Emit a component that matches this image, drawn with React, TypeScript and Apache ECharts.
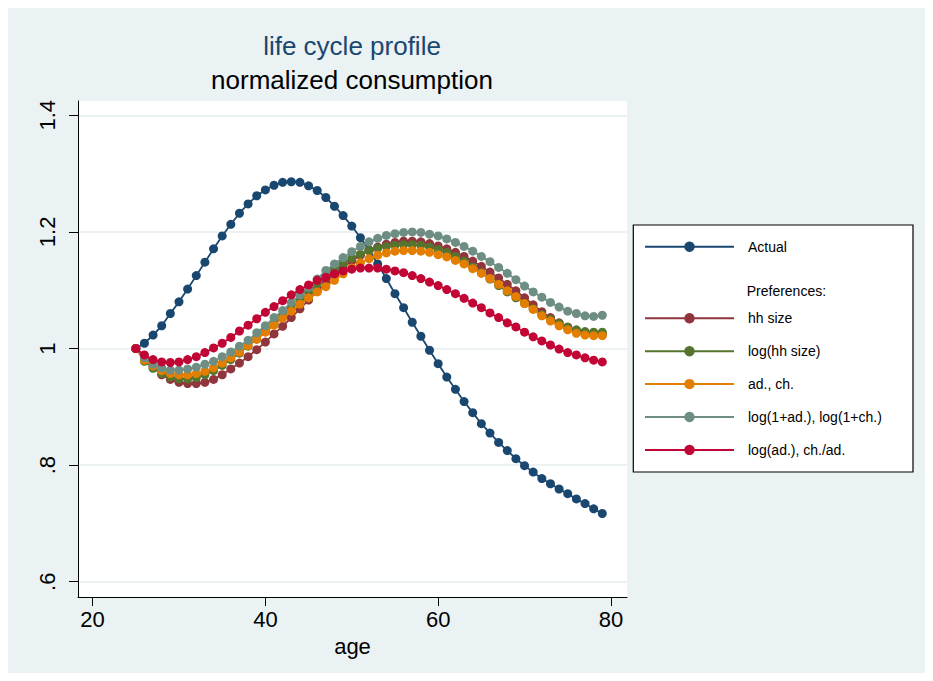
import { useEffect, useRef } from 'react';
import * as echarts from 'echarts';

const ages = [25, 26, 27, 28, 29, 30, 31, 32, 33, 34, 35, 36, 37, 38, 39, 40, 41, 42, 43, 44, 45, 46, 47, 48, 49, 50, 51, 52, 53, 54, 55, 56, 57, 58, 59, 60, 61, 62, 63, 64, 65, 66, 67, 68, 69, 70, 71, 72, 73, 74, 75, 76, 77, 78, 79];

const actual = [1.000, 1.009, 1.023, 1.039, 1.060, 1.080, 1.102, 1.125, 1.148, 1.171, 1.193, 1.213, 1.232, 1.248, 1.262, 1.272, 1.280, 1.285, 1.286, 1.285, 1.279, 1.271, 1.259, 1.244, 1.228, 1.210, 1.190, 1.169, 1.145, 1.120, 1.094, 1.070, 1.045, 1.021, 0.997, 0.974, 0.951, 0.930, 0.909, 0.890, 0.871, 0.855, 0.839, 0.825, 0.811, 0.799, 0.788, 0.777, 0.768, 0.759, 0.751, 0.742, 0.734, 0.725, 0.717];

const hhSize = [1.000, 0.982, 0.968, 0.955, 0.947, 0.942, 0.940, 0.940, 0.942, 0.947, 0.955, 0.965, 0.975, 0.986, 0.998, 1.011, 1.025, 1.038, 1.053, 1.068, 1.083, 1.098, 1.113, 1.127, 1.139, 1.150, 1.160, 1.168, 1.174, 1.179, 1.182, 1.184, 1.184, 1.183, 1.180, 1.176, 1.171, 1.165, 1.158, 1.150, 1.141, 1.131, 1.121, 1.110, 1.099, 1.087, 1.075, 1.063, 1.053, 1.044, 1.036, 1.030, 1.026, 1.024, 1.024];

const logHhSize = [1.000, 0.978, 0.966, 0.957, 0.951, 0.948, 0.948, 0.950, 0.955, 0.962, 0.971, 0.981, 0.992, 1.004, 1.016, 1.029, 1.042, 1.056, 1.069, 1.082, 1.096, 1.111, 1.125, 1.136, 1.146, 1.155, 1.162, 1.168, 1.172, 1.175, 1.177, 1.178, 1.178, 1.177, 1.174, 1.170, 1.165, 1.158, 1.150, 1.140, 1.130, 1.119, 1.108, 1.097, 1.087, 1.077, 1.068, 1.058, 1.050, 1.043, 1.037, 1.032, 1.029, 1.028, 1.028];

const adCh = [1.000, 0.980, 0.970, 0.962, 0.957, 0.955, 0.955, 0.957, 0.961, 0.967, 0.975, 0.984, 0.994, 1.005, 1.016, 1.028, 1.040, 1.052, 1.064, 1.076, 1.087, 1.097, 1.106, 1.117, 1.128, 1.138, 1.147, 1.154, 1.160, 1.164, 1.167, 1.168, 1.168, 1.167, 1.165, 1.161, 1.157, 1.151, 1.145, 1.137, 1.129, 1.120, 1.110, 1.099, 1.089, 1.077, 1.067, 1.056, 1.047, 1.039, 1.032, 1.026, 1.023, 1.022, 1.022];

const log1AdCh = [1.000, 0.984, 0.973, 0.967, 0.963, 0.963, 0.965, 0.968, 0.973, 0.978, 0.986, 0.994, 1.004, 1.014, 1.027, 1.039, 1.053, 1.065, 1.079, 1.092, 1.105, 1.119, 1.134, 1.145, 1.156, 1.166, 1.175, 1.183, 1.189, 1.194, 1.197, 1.199, 1.200, 1.199, 1.196, 1.193, 1.188, 1.182, 1.175, 1.167, 1.158, 1.149, 1.139, 1.129, 1.118, 1.107, 1.097, 1.088, 1.079, 1.071, 1.064, 1.060, 1.056, 1.055, 1.057];

const logAdChAd = [1.000, 0.989, 0.981, 0.977, 0.976, 0.977, 0.981, 0.986, 0.993, 1.001, 1.009, 1.019, 1.030, 1.040, 1.051, 1.062, 1.072, 1.082, 1.092, 1.101, 1.109, 1.117, 1.122, 1.128, 1.133, 1.136, 1.138, 1.138, 1.138, 1.136, 1.133, 1.130, 1.125, 1.120, 1.114, 1.108, 1.101, 1.094, 1.086, 1.078, 1.070, 1.061, 1.053, 1.044, 1.037, 1.028, 1.020, 1.013, 1.006, 0.999, 0.993, 0.989, 0.984, 0.980, 0.977];

const seriesNames = ['Actual', 'hh size', 'log(hh size)', 'ad., ch.', 'log(1+ad.), log(1+ch.)', 'log(ad.), ch./ad.'];
const seriesValues = [actual, hhSize, logHhSize, adCh, log1AdCh, logAdChAd];
const seriesColors = ['#1a476f', '#90353b', '#55752f', '#e37e00', '#6e8e84', '#c10534'];

const xTicks = [20, 40, 60, 80];
const yTicks = [0.6, 0.8, 1, 1.2, 1.4];
const yTickLabels = ['.6', '.8', '1', '1.2', '1.4'];

const titleText = 'life cycle profile';
const subtitleText = 'normalized consumption';
const xAxisTitle = 'age';
const legendHeading = 'Preferences:';

const FONT = '"Liberation Sans", Arial, Helvetica, sans-serif';

export default function App() {
  const ref = useRef<HTMLDivElement>(null);

  useEffect(() => {
    if (!ref.current) return;
    const chart = echarts.init(ref.current, undefined, { renderer: 'svg' });

    const series = seriesNames.map((name, i) => ({
      name,
      type: 'line',
      data: ages.map((a, j) => [a, seriesValues[i][j]]),
      symbol: 'circle',
      symbolSize: 9,
      showSymbol: true,
      color: seriesColors[i],
      lineStyle: { width: 1.8, color: seriesColors[i] },
      itemStyle: { color: seriesColors[i] },
      emphasis: { disabled: true },
      z: 2 + i,
    }));

    const legendCommon = {
      orient: 'vertical',
      left: 636,
      padding: 0,
      itemWidth: 89,
      itemHeight: 13,
      selectedMode: false,
      itemStyle: { borderWidth: 0 },
      lineStyle: { width: 2 },
      textStyle: {
        fontFamily: FONT,
        fontSize: 14,
        color: '#000',
        lineHeight: 14,
        padding: [0, 0, 0, 9],
      },
    };

    chart.setOption({
      animation: false,
      backgroundColor: '#EAF2F3',
      textStyle: { fontFamily: FONT },
      grid: {
        left: 70,
        top: 93,
        width: 549,
        height: 496,
        show: true,
        backgroundColor: '#ffffff',
        borderWidth: 0,
        containLabel: false,
      },
      xAxis: {
        type: 'value',
        min: 18.31,
        max: 81.86,
        name: xAxisTitle,
        nameLocation: 'middle',
        nameGap: 38,
        nameTextStyle: { fontFamily: FONT, fontSize: 22, color: '#000' },
        axisLine: { show: true, onZero: false, lineStyle: { color: '#000', width: 1 } },
        axisTick: { show: true, inside: false, length: 9, customValues: xTicks, lineStyle: { color: '#000', width: 1 } },
        axisLabel: { customValues: xTicks, margin: 11, fontFamily: FONT, fontSize: 22, color: '#000' },
        splitLine: { show: false },
      },
      yAxis: {
        type: 'value',
        min: 0.5738,
        max: 1.4245,
        axisLine: { show: true, onZero: false, lineStyle: { color: '#000', width: 1 } },
        axisTick: { show: true, inside: false, length: 9, customValues: yTicks, lineStyle: { color: '#000', width: 1 } },
        axisLabel: {
          customValues: yTicks,
          rotate: 90,
          margin: 20,
          fontFamily: FONT,
          fontSize: 22,
          color: '#000',
          formatter: (v: number) => {
            const idx = yTicks.findIndex((t) => Math.abs(t - v) < 1e-6);
            return idx >= 0 ? yTickLabels[idx] : '';
          },
        },
        splitLine: { show: true, lineStyle: { color: '#E6EEF1', width: 1.5 } },
      },
      legend: [
        { ...legendCommon, top: 231.7, data: [seriesNames[0]] },
        { ...legendCommon, top: 303.3, itemGap: 18.9, data: seriesNames.slice(1) },
      ],
      graphic: [
        {
          type: 'rect',
          z: 1,
          shape: { x: 625.3, y: 217, width: 279.7, height: 247 },
          style: { fill: '#ffffff', stroke: '#000000', lineWidth: 1.2 },
        },
        {
          type: 'text',
          z: 5,
          x: 738.7,
          y: 283,
          style: {
            text: legendHeading,
            fontFamily: FONT,
            fontSize: 14,
            fill: '#000',
            textAlign: 'left',
            textVerticalAlign: 'middle',
          },
        },
        {
          type: 'text',
          x: 344,
          y: 38,
          style: {
            text: titleText,
            fontFamily: FONT,
            fontSize: 26,
            fill: '#1a476f',
            textAlign: 'center',
            textVerticalAlign: 'middle',
          },
        },
        {
          type: 'text',
          x: 344,
          y: 72,
          style: {
            text: subtitleText,
            fontFamily: FONT,
            fontSize: 26,
            fill: '#000',
            textAlign: 'center',
            textVerticalAlign: 'middle',
          },
        },
      ],
      series,
    });

    return () => chart.dispose();
  }, []);

  return <div ref={ref} style={{ width: 917, height: 665 }} />;
}
